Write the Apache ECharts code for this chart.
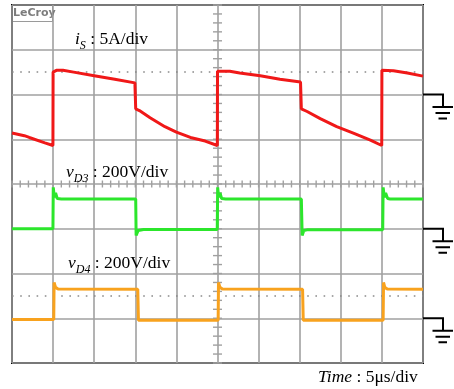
<!DOCTYPE html>
<html>
<head>
<meta charset="utf-8">
<script src="https://cdn.jsdelivr.net/npm/echarts@6/dist/echarts.min.js"></script>
<style>
  html, body { margin: 0; padding: 0; background: #fff; }
  #chart { width: 454px; height: 389px; }
</style>
</head>
<body>
<div id="chart"></div>
<script>
  // time base: 5 us/div, 10 divisions
  var timeMin = 0, timeMax = 50, timeStep = 5

  // i_S, 5 A/div (ground at 6th division from bottom)
  var redTime = [0, 1.5, 2.1, 4, 4.98, 5, 5.4, 6.2, 7.5, 10, 12.5, 14.95, 15.05, 15.5, 16.8, 18.6, 20, 21.7, 23.5, 24.98,
                 25, 26.5, 27.7, 30.2, 32.6, 35.1, 35.2, 35.9, 37.5, 39.5, 41.6, 43.6, 44.98, 45, 46.4, 48.1, 50]
  var redCurrent = [-4.3, -4.6, -4.8, -5.4, -5.7, 2.5, 2.7, 2.7, 2.5, 2.1, 1.7, 1.3, -1.6, -1.8, -2.6, -3.6, -4.2, -4.8, -5.2, -5.7,
                    2.6, 2.6, 2.4, 2.1, 1.7, 1.4, -1.6, -1.9, -2.7, -3.6, -4.35, -5.1, -5.7, 2.7, 2.65, 2.4, 2.05]

  // v_D3, 200 V/div (ground at 3rd division)
  var greenTime = [0, 4.98, 5.02, 5.15, 5.3, 5.5, 6, 15.05, 15.1, 15.35, 16, 24.97, 25.02, 25.15, 25.3, 25.5, 26,
                   35.2, 35.3, 35.5, 36, 45.1, 45.15, 45.3, 45.45, 45.7, 46, 50]
  var greenVoltage = [0, 0, 185, 140, 160, 135, 133, 133, -30, -8, -3, -3, 185, 140, 160, 135, 133,
                      133, -30, -8, -4, -4, 185, 140, 160, 135, 133, 133]

  // v_D4, 200 V/div (ground at 1st division)
  var orangeTime = [0, 5.08, 5.12, 5.3, 5.6, 15.3, 15.38, 25.08, 25.12, 25.3, 25.6, 35.35, 35.43, 45.15, 45.2, 45.35, 45.65, 50]
  var orangeVoltage = [-6, -6, 160, 138, 131, 130, -9, -9, 160, 138, 131, 130, -9, -9, 160, 138, 131, 130]

  // dotted half-division markers
  var redMarker = 2.5
  var orangeMarker = 100

  var gridColor = '#a0a0a0'
  var serif = 'Liberation Serif'

  function pairs(t, v) {
    return t.map(function (x, i) { return [x, v[i]] })
  }

  function hiddenY(min, max, interval, split) {
    return {
      type: 'value', min: min, max: max, interval: interval,
      axisLine: { show: false }, axisTick: { show: false }, axisLabel: { show: false },
      splitLine: { show: split, lineStyle: { color: gridColor, width: 1.6 } }
    }
  }

  function trace(name, data, axis, color, marker) {
    var s = {
      name: name, type: 'line', yAxisIndex: axis, data: data,
      showSymbol: false, symbol: 'none', smooth: false,
      lineStyle: { color: color, width: 3 }, z: 5
    }
    if (marker !== undefined) {
      s.markLine = {
        silent: true, symbol: 'none', label: { show: false },
        lineStyle: { color: '#8a8a8a', type: [1.6, 6.6], width: 1.6 },
        data: [{ yAxis: marker }], z: 2
      }
    }
    return s
  }

  var chart = echarts.init(document.getElementById('chart'))
  chart.setOption({
    animation: false,
    backgroundColor: '#fff',
    grid: { left: 12, top: 5, width: 411, height: 358, show: true, borderColor: '#000', borderWidth: 2, backgroundColor: 'transparent' },
    xAxis: {
      type: 'value', min: timeMin, max: timeMax, interval: timeStep,
      axisLine: { show: false }, axisTick: { show: false }, axisLabel: { show: false },
      splitLine: { show: true, lineStyle: { color: gridColor, width: 1.6 } }
    },
    yAxis: [hiddenY(-30, 10, 5, true), hiddenY(-600, 1000, 200, false), hiddenY(-200, 1400, 200, false)],
    series: [
      trace('iS', pairs(redTime, redCurrent), 0, '#f01818', redMarker),
      trace('vD3', pairs(greenTime, greenVoltage), 1, '#2ce62c'),
      trace('vD4', pairs(orangeTime, orangeVoltage), 2, '#f8a21e', orangeMarker)
    ]
  })

  function px(t, v, axis) {
    return chart.convertToPixel({ xAxisIndex: 0, yAxisIndex: axis }, [t, v])
  }

  var graphics = []
  function seg(x1, y1, x2, y2, color, w) {
    graphics.push({ type: 'line', silent: true, z: 3,
      shape: { x1: x1, y1: y1, x2: x2, y2: y2 },
      style: { stroke: color, lineWidth: w } })
  }

  // centre crosshair minor ticks
  var cy = px(0, -10, 0)[1]
  var cx = px(25, 0, 0)[0]
  for (var t = timeMin; t <= timeMax; t += 1) {
    var x = px(t, 0, 0)[0]
    seg(x, cy - 3.5, x, cy + 3.5, gridColor, 1.4)
  }
  for (var a = -30; a <= 10; a += 1) {
    var y = px(0, a, 0)[1]
    seg(cx - 4.5, y, cx + 4.5, y, gridColor, 1.4)
  }

  // ground symbols at each trace's zero
  ;[0, 1, 2].forEach(function (ax) {
    var g = px(timeMax, 0, ax)
    var gx = g[0], gy = g[1]
    graphics.push({ type: 'polyline', silent: true, z: 6,
      shape: { points: [[gx, gy], [gx + 20, gy], [gx + 20, gy + 12.5]] },
      style: { stroke: '#000', lineWidth: 2, fill: null } })
    seg(gx + 9.5, gy + 12.5, gx + 30, gy + 12.5, '#000', 2)
    seg(gx + 12.5, gy + 18.5, gx + 27, gy + 18.5, '#000', 2)
    seg(gx + 15.5, gy + 24, gx + 24, gy + 24, '#000', 2)
  })

  function label(left, top, parts) {
    graphics.push({ type: 'text', left: left, top: top, z: 10, silent: true,
      style: {
        text: parts, fill: '#000',
        rich: {
          it: { fontFamily: serif, fontStyle: 'italic', fontSize: 17.5, lineHeight: 20, verticalAlign: 'bottom' },
          sub: { fontFamily: serif, fontStyle: 'italic', fontSize: 12, lineHeight: 20, verticalAlign: 'bottom', padding: [0, 0, -4, 0] },
          n: { fontFamily: serif, fontSize: 17.5, lineHeight: 20, verticalAlign: 'bottom' }
        }
      } })
  }
  label(75, 30, '{it|i}{sub|S}{n| : 5A/div}')
  label(66, 163, '{it|v}{sub|D3}{n| : 200V/div}')
  label(68, 254, '{it|v}{sub|D4}{n| : 200V/div}')
  label(318, 368, '{it|Time}{n| : 5μs/div}')

  // scope logo tab
  graphics.push({ type: 'text', left: 13, top: 8, z: 10, silent: true,
    style: { text: 'LeCroy', fill: '#7d7d7d', font: 'bold 11px "DejaVu Sans"' } })
  graphics.push({ type: 'polyline', silent: true, z: 10,
    shape: { points: [[13, 21.5], [52.5, 21.5], [52.5, 6]] },
    style: { stroke: '#9a9a9a', lineWidth: 1, fill: null } })

  chart.setOption({ graphic: graphics })
</script>
</body>
</html>
